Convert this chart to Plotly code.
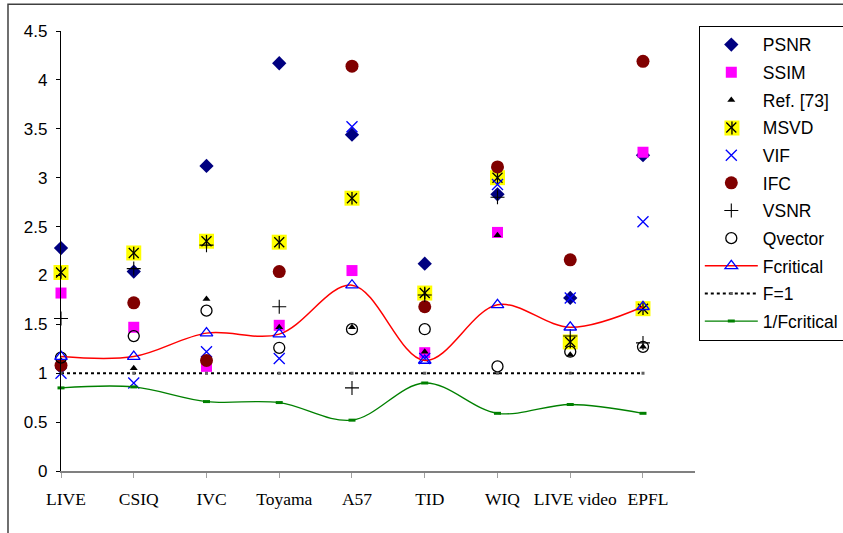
import plotly.graph_objects as go

categories = ["LIVE", "CSIQ", "IVC", "Toyama", "A57", "TID", "WIQ", "LIVE video", "EPFL"]

psnr    = [2.28, 2.04, 3.12, 4.17, 3.44, 2.12, 2.83, 1.77, 3.23]
ssim    = [1.82, 1.47, 1.07, 1.49, 2.05, 1.21, 2.44, 1.32, 3.26]
ref73   = [1.13, 1.05, 1.76, 1.47, 1.47, 1.22, 2.41, 1.19, 1.27]
msvd    = [2.03, 2.23, 2.35, 2.34, 2.79, 1.82, 3.00, 1.32, 1.66]
vif     = [1.00, 0.90, 1.22, 1.15, 3.52, 1.15, 2.93, 1.77, 2.55]
ifc     = [1.08, 1.72, 1.13, 2.04, 4.14, 1.68, 3.11, 2.16, 4.19]
vsnr    = [1.56, 2.07, 2.31, 1.68, 0.85, 1.80, 2.80, 1.38, 1.31]
qvector = [1.16, 1.38, 1.64, 1.26, 1.45, 1.45, 1.07, 1.22, 1.27]
fcrit   = [1.17, 1.17, 1.41, 1.40, 1.90, 1.13, 1.70, 1.47, 1.68]
f_one   = [1, 1, 1, 1, 1, 1, 1, 1, 1]
inv_fcrit = [0.85, 0.86, 0.71, 0.70, 0.52, 0.90, 0.59, 0.68, 0.59]

y_ticks = [0, 0.5, 1, 1.5, 2, 2.5, 3, 3.5, 4, 4.5]
y_tick_text = ["0", "0.5", "1", "1.5", "2", "2.5", "3", "3.5", "4", "4.5"]

fig = go.Figure()

def pts(name, y, symbol, size, color, line_color=None, line_width=0, group=None, show=True):
    fig.add_trace(go.Scatter(
        x=categories, y=y, mode="markers", name=name,
        legendgroup=group or name, showlegend=show, cliponaxis=False,
        marker=dict(symbol=symbol, size=size, color=color,
                    line=dict(color=line_color or color, width=line_width)),
    ))

pts("PSNR", psnr, "diamond", 11, "#000080")
pts("SSIM", ssim, "square", 11, "#FF00FF")
pts("Ref. [73]", ref73, "triangle-up", 7, "#000000")
pts("MSVD", msvd, "square", 15, "#FFFF00", group="MSVD", show=False)
pts("MSVD", msvd, "x-thin-open", 10, "#000000", line_width=1.3, group="MSVD", show=True)
pts("MSVD", msvd, "line-ns-open", 9, "#000000", line_width=1.3, group="MSVD", show=False)
pts("VIF", vif, "x-thin-open", 11, "#0000FF", line_width=1.3)
pts("IFC", ifc, "circle", 13, "#800000")
pts("VSNR", vsnr, "cross-thin-open", 10, "#000000", line_width=1.1)
pts("Qvector", qvector, "circle-open", 11, "#000000", line_width=1.3)

fig.add_trace(go.Scatter(
    x=categories, y=fcrit, mode="lines+markers", name="Fcritical",
    legendgroup="Fcritical", cliponaxis=False,
    line=dict(color="#FF0000", width=1.5, shape="spline", smoothing=1.0),
    marker=dict(symbol="triangle-up-open", size=11, color="#0000FF",
                line=dict(color="#0000FF", width=1.3)),
))
fig.add_trace(go.Scatter(
    x=categories, y=f_one, mode="lines+markers", name="F=1",
    legendgroup="F=1", cliponaxis=False,
    line=dict(color="#000000", width=2, dash="3px,3px"),
    marker=dict(symbol="square", size=3, color="#606060"),
))
fig.add_trace(go.Scatter(
    x=categories, y=inv_fcrit, mode="lines+markers", name="1/Fcritical",
    legendgroup="1/Fcritical", cliponaxis=False,
    line=dict(color="#008000", width=1.3, shape="spline", smoothing=1.0),
    marker=dict(symbol="line-ew-open", size=5, color="#008000",
                line=dict(color="#008000", width=3)),
))

# legend icon backdrop for MSVD (yellow square + vertical stroke under the transparent legend)
lx, ly = 1.0583, 0.7795
hx, hy = 7.5 / 634, 7.5 / 440
shapes = [
    dict(type="rect", xref="paper", yref="paper",
         x0=-0.0836, y0=-0.3, x1=1.4, y1=1.061,
         line=dict(color="#404040", width=1.5), fillcolor="rgba(0,0,0,0)", layer="below"),
    dict(type="rect", xref="paper", yref="paper",
         x0=lx - hx, x1=lx + hx, y0=ly - hy, y1=ly + hy,
         line=dict(width=0), fillcolor="#FFFF00", layer="above"),
    dict(type="line", xref="paper", yref="paper",
         x0=lx, x1=lx, y0=ly - 6.5 / 440, y1=ly + 6.5 / 440,
         line=dict(color="#000000", width=1.3), layer="above"),
]

fig.update_layout(
    width=843, height=533,
    margin=dict(l=61, r=148, t=31, b=62, autoexpand=False),
    paper_bgcolor="white", plot_bgcolor="white",
    showlegend=True,
    legend=dict(
        x=1.006, y=1.012, xanchor="left", yanchor="top",
        font=dict(family="Liberation Sans, Arial", size=17.5, color="#000000"),
        bordercolor="#000000", borderwidth=1, bgcolor="rgba(255,255,255,0)",
        traceorder="grouped", tracegroupgap=1.9, itemwidth=53, maxheight=480,
    ),
    xaxis=dict(
        type="category", categoryorder="array", categoryarray=categories,
        range=[0, 8.715], showgrid=False, zeroline=False,
        showline=True, linecolor="#808080", linewidth=1.5,
        ticks="outside", ticklen=5, tickcolor="#a0a0a0", tickwidth=1,
        ticklabelstandoff=6, ticklabelshift=5,
        tickfont=dict(family="Liberation Serif, Times New Roman", size=17.5, color="#000000"),
    ),
    yaxis=dict(
        range=[0, 4.5], tickvals=y_ticks, ticktext=y_tick_text,
        showgrid=False, zeroline=False,
        showline=True, linecolor="#000000", linewidth=1.2,
        ticks="outside", ticklen=4, tickcolor="#000000", ticklabelstandoff=5,
        tickfont=dict(family="Liberation Sans, Arial", size=17, color="#000000"),
    ),
    shapes=shapes,
)

fig.write_html("out.html", config={"displayModeBar": False},
               post_script="document.body.style.margin='0';document.body.style.overflow='hidden';")
